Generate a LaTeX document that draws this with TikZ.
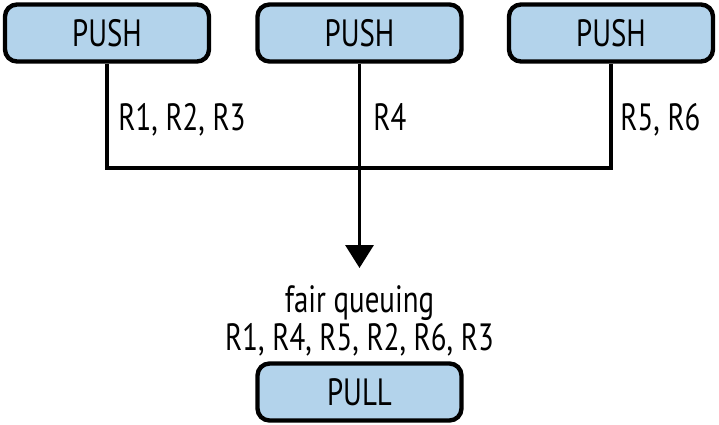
\documentclass[tikz,border=0pt]{standalone}
\usepackage{fontspec}
\setmainfont{PT Sans}[FakeStretch=0.76]
\usetikzlibrary{arrows.meta}
\definecolor{boxblue}{RGB}{179,211,235}
\tikzset{
  sockbox/.style={draw, line width=2.2pt, rounded corners=6pt, fill=boxblue,
    minimum width=102pt, minimum height=28.5pt, inner sep=0pt,
    font=\fontsize{19}{21}\selectfont},
  wire/.style={line width=1.7pt},
  lbl/.style={font=\fontsize{19}{21}\selectfont, inner sep=0pt}
}
\begin{document}
\begin{tikzpicture}[x=0.5pt, y=-0.5pt]
	\useasboundingbox (0,0) rectangle (719,424);
	
	% senders
	\foreach \n/\x in {1/107, 2/359.5, 3/611}
	{
		\node[sockbox] (push\n) at (\x, 33) {PUSH};
	}
	\node[sockbox] (pull) at (359.5, 392) {PULL};
	
	% messages per sender
	\foreach \n/\x/\t in {1/118/{R1, R2, R3}, 2/373/R4, 3/620/{R5, R6}}
	{
		\node[lbl, anchor=base west] (msg\n) at (\x, 130) {\t};
	}
	
	\coordinate (join) at (359.5, 168);
	\coordinate (tip) at (359.5, 268);
	\draw[wire] (push1.south) |- (push3.south |- join) -- (push3.south);
	\draw[wire, -{Triangle[length=11.5pt, width=14pt]}] (push2.south) -- (tip);
	
	\node[lbl, anchor=base] (fair) at (359.5, 312) {fair queuing};
	\node[lbl, anchor=base] (order) at (359.5, 350) {R1, R4, R5, R2, R6, R3};
\end{tikzpicture}
\end{document}
